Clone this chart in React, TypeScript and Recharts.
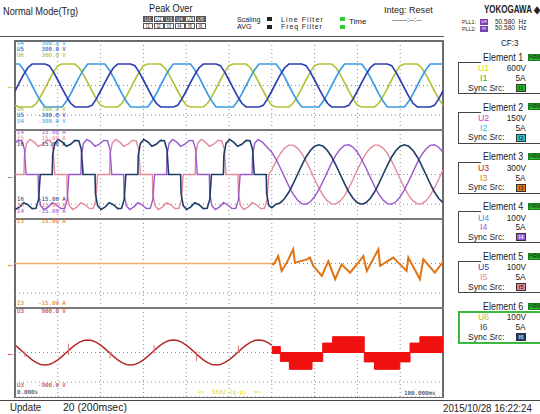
import React from "react";
import {Area, CartesianGrid, ComposedChart, Line, LineChart, XAxis, YAxis} from "recharts";

// shared 1 ms time base for the voltage traces
const TIME_MS = [
  0, 1, 2, 3, 4, 5, 6, 7, 8, 9, 10, 11, 12, 13, 14, 15, 16, 17, 18, 19,
  20, 21, 22, 23, 24, 25, 26, 27, 28, 29, 30, 31, 32, 33, 34, 35, 36, 37, 38, 39,
  40, 41, 42, 43, 44, 45, 46, 47, 48, 49, 50, 51, 52, 53, 54, 55, 56, 57, 58, 59,
  60, 61, 62, 63, 64, 65, 66, 67, 68, 69, 70, 71, 72, 73, 74, 75, 76, 77, 78, 79,
  80, 81, 82, 83, 84, 85, 86, 87, 88, 89, 90, 91, 92, 93, 94, 95, 96, 97, 98, 99,
  100,
];
const X_TICKS = [0, 10, 20, 30, 40, 50, 60, 70, 80, 90, 100];

// panel 1: U4 / U5 / U6 (V)
const U4_V = [
  145, 145, 106, 56, 0, -56, -106, -145, -145, -145, -145, -145, -106, -56, 0, 56, 106, 145, 145, 145,
  145, 145, 106, 56, 0, -56, -106, -145, -145, -145, -145, -145, -106, -56, 0, 56, 106, 145, 145, 145,
  145, 145, 106, 56, 0, -56, -106, -145, -145, -145, -145, -145, -106, -56, 0, 56, 106, 145, 145, 145,
  145, 145, 106, 56, 0, -56, -106, -145, -145, -145, -145, -145, -106, -56, 0, 56, 106, 145, 145, 145,
  145, 145, 106, 56, 0, -56, -106, -145, -145, -145, -145, -145, -106, -56, 0, 56, 106, 145, 145, 145,
  145,
];
const U5_V = [
  -37, 19, 73, 120, 145, 145, 145, 145, 134, 90, 37, -19, -73, -120, -145, -145, -145, -145, -134, -90,
  -37, 19, 73, 120, 145, 145, 145, 145, 134, 90, 37, -19, -73, -120, -145, -145, -145, -145, -134, -90,
  -37, 19, 73, 120, 145, 145, 145, 145, 134, 90, 37, -19, -73, -120, -145, -145, -145, -145, -134, -90,
  -37, 19, 73, 120, 145, 145, 145, 145, 134, 90, 37, -19, -73, -120, -145, -145, -145, -145, -134, -90,
  -37, 19, 73, 120, 145, 145, 145, 145, 134, 90, 37, -19, -73, -120, -145, -145, -145, -145, -134, -90,
  -37,
];
const U6_V = [
  -134, -145, -145, -145, -145, -120, -73, -19, 37, 90, 134, 145, 145, 145, 145, 120, 73, 19, -37, -90,
  -134, -145, -145, -145, -145, -120, -73, -19, 37, 90, 134, 145, 145, 145, 145, 120, 73, 19, -37, -90,
  -134, -145, -145, -145, -145, -120, -73, -19, 37, 90, 134, 145, 145, 145, 145, 120, 73, 19, -37, -90,
  -134, -145, -145, -145, -145, -120, -73, -19, 37, 90, 134, 145, 145, 145, 145, 120, 73, 19, -37, -90,
  -134, -145, -145, -145, -145, -120, -73, -19, 37, 90, 134, 145, 145, 145, 145, 120, 73, 19, -37, -90,
  -134,
];
const U_TICKS = [-300, -200, -100, 0, 100, 200, 300];

// panel 2: I4 / I5 / I6 as [ms, A]
const I4_A = [
  [0, 10.6], [0.7, 11.5], [1.6, 11.4], [2.2, 8.5], [2.6, 0],
  [5.4, 0], [5.5, -6.5], [6, -10.5], [6.8, -11.8], [7.8, -10.9], [8.7, -9.5], [9.7, -10.2], [10.7, -11.5], [11.6, -11.4], [12.2, -8.5], [12.6, 0],
  [15.4, 0], [15.5, 6.5], [16, 10.5], [16.8, 11.8], [17.8, 10.9], [18.7, 9.5], [19.7, 10.2], [20.7, 11.5], [21.6, 11.4], [22.2, 8.5], [22.6, 0],
  [25.4, 0], [25.5, -6.5], [26, -10.5], [26.8, -11.8], [27.8, -10.9], [28.7, -9.5], [29.7, -10.2], [30.7, -11.5], [31.6, -11.4], [32.2, -8.5], [32.6, 0],
  [35.4, 0], [35.5, 6.5], [36, 10.5], [36.8, 11.8], [37.8, 10.9], [38.7, 9.5], [39.7, 10.2], [40.7, 11.5], [41.6, 11.4], [42.2, 8.5], [42.6, 0],
  [45.4, 0], [45.5, -6.5], [46, -10.5], [46.8, -11.8], [47.8, -10.9], [48.7, -9.5], [49.7, -10.2], [50.7, -11.5], [51.6, -11.4], [52.2, -8.5], [52.6, 0],
  [55.4, 0], [55.5, 6.5], [56, 10.5], [56.8, 11.8], [57.8, 10.9], [58.7, 9.5],
  [60, 7.5], [61, 5.1], [62, 2.2], [63, -0.9], [64, -4], [65, -6.6], [66, -8.6], [67, -9.8], [68, -10], [69, -9.2],
  [70, -7.5], [71, -5.1], [72, -2.2], [73, 0.9], [74, 4], [75, 6.6], [76, 8.6], [77, 9.8], [78, 10], [79, 9.2],
  [80, 7.5], [81, 5.1], [82, 2.2], [83, -0.9], [84, -4], [85, -6.6], [86, -8.6], [87, -9.8], [88, -10], [89, -9.2],
  [90, -7.5], [91, -5.1], [92, -2.2], [93, 0.9], [94, 4], [95, 6.6], [96, 8.6], [97, 9.8], [98, 10], [99, 9.2],
  [100, 7.5],
];
const I5_A = [
  [0, 0], [2.1, 0], [2.2, 6.5], [2.7, 10.5], [3.5, 11.8], [4.5, 10.9], [5.4, 9.5], [6.4, 10.2], [7.4, 11.5], [8.3, 11.4], [8.9, 8.5], [9.3, 0],
  [12.1, 0], [12.2, -6.5], [12.7, -10.5], [13.5, -11.8], [14.5, -10.9], [15.4, -9.5], [16.4, -10.2], [17.4, -11.5], [18.3, -11.4], [18.9, -8.5], [19.3, 0],
  [22.1, 0], [22.2, 6.5], [22.7, 10.5], [23.5, 11.8], [24.5, 10.9], [25.4, 9.5], [26.4, 10.2], [27.4, 11.5], [28.3, 11.4], [28.9, 8.5], [29.3, 0],
  [32.1, 0], [32.2, -6.5], [32.7, -10.5], [33.5, -11.8], [34.5, -10.9], [35.4, -9.5], [36.4, -10.2], [37.4, -11.5], [38.3, -11.4], [38.9, -8.5], [39.3, 0],
  [42.1, 0], [42.2, 6.5], [42.7, 10.5], [43.5, 11.8], [44.5, 10.9], [45.4, 9.5], [46.4, 10.2], [47.4, 11.5], [48.3, 11.4], [48.9, 8.5], [49.3, 0],
  [52.1, 0], [52.2, -6.5], [52.7, -10.5], [53.5, -11.8], [54.5, -10.9], [55.4, -9.5], [56.4, -10.2], [57.4, -11.5], [58.3, -11.4], [58.9, -8.5], [59.3, 0],
  [60, 1.6], [61, 4.5], [62, 7.1], [63, 8.9], [64, 9.9], [65, 9.9], [66, 8.9], [67, 7.1], [68, 4.5], [69, 1.6],
  [70, -1.6], [71, -4.5], [72, -7.1], [73, -8.9], [74, -9.9], [75, -9.9], [76, -8.9], [77, -7.1], [78, -4.5], [79, -1.6],
  [80, 1.6], [81, 4.5], [82, 7.1], [83, 8.9], [84, 9.9], [85, 9.9], [86, 8.9], [87, 7.1], [88, 4.5], [89, 1.6],
  [90, -1.6], [91, -4.5], [92, -7.1], [93, -8.9], [94, -9.9], [95, -9.9], [96, -8.9], [97, -7.1], [98, -4.5], [99, -1.6],
  [100, 1.6],
];
const I6_A = [
  [0, -11.6], [0.1, -11.8], [1.1, -10.9], [2, -9.5], [3, -10.2], [4, -11.5], [4.9, -11.4], [5.5, -8.5], [5.9, 0],
  [8.7, 0], [8.8, 6.5], [9.3, 10.5], [10.1, 11.8], [11.1, 10.9], [12, 9.5], [13, 10.2], [14, 11.5], [14.9, 11.4], [15.5, 8.5], [15.9, 0],
  [18.7, 0], [18.8, -6.5], [19.3, -10.5], [20.1, -11.8], [21.1, -10.9], [22, -9.5], [23, -10.2], [24, -11.5], [24.9, -11.4], [25.5, -8.5], [25.9, 0],
  [28.7, 0], [28.8, 6.5], [29.3, 10.5], [30.1, 11.8], [31.1, 10.9], [32, 9.5], [33, 10.2], [34, 11.5], [34.9, 11.4], [35.5, 8.5], [35.9, 0],
  [38.7, 0], [38.8, -6.5], [39.3, -10.5], [40.1, -11.8], [41.1, -10.9], [42, -9.5], [43, -10.2], [44, -11.5], [44.9, -11.4], [45.5, -8.5], [45.9, 0],
  [48.7, 0], [48.8, 6.5], [49.3, 10.5], [50.1, 11.8], [51.1, 10.9], [52, 9.5], [53, 10.2], [54, 11.5], [54.9, 11.4], [55.5, 8.5], [55.9, 0],
  [58.7, 0], [58.8, -6.5], [59.3, -10.5], [60, -11.2],
  [61, -10], [62, -9.5], [63, -8.1], [64, -5.9], [65, -3.1], [66, 0], [67, 3.1], [68, 5.9], [69, 8.1], [70, 9.5],
  [71, 10], [72, 9.5], [73, 8.1], [74, 5.9], [75, 3.1], [76, 0], [77, -3.1], [78, -5.9], [79, -8.1], [80, -9.5],
  [81, -10], [82, -9.5], [83, -8.1], [84, -5.9], [85, -3.1], [86, 0], [87, 3.1], [88, 5.9], [89, 8.1], [90, 9.5],
  [91, 10], [92, 9.5], [93, 8.1], [94, 5.9], [95, 3.1], [96, 0], [97, -3.1], [98, -5.9], [99, -8.1], [100, -9.5],
];
const I_TICKS = [-15, -10, -5, 0, 5, 10, 15];

// panel 3: I3 (A)
const I3_IDLE = [[0, 0], [60, 0]];
const I3_A = [
  [60, 0], [60.4, -0.3], [61.5, 2.5], [62.3, -2.5], [63.5, 0.3], [65, 4.8], [65.4, 0.3], [68.2, 1.4],
  [68.9, 2], [69.7, -0.8], [71.7, -4.2], [73.2, 0.8], [74.8, -5.3], [76.3, -0.3], [78.3, -3.1], [80.2, 0.3],
  [81.4, 2.5], [82.2, -2.5], [84.9, 4.8], [85.3, -0.8], [88.4, 2], [89.2, 0.8], [91.5, -2.5], [91.9, 2],
  [94.6, -5.3], [95.4, 1.4], [98.1, -3.1], [99.3, -0.8], [100, 0.5],
];

// panel 4: U3 (V), sine up to 60 ms, then switching blocks
const U3_V = [
  150, 79, 0, -79, -150, -206, -242, -255, -242, -206, -150, -79, 0, 79, 150, 206, 242, 255, 242, 206,
  150, 79, 0, -79, -150, -206, -242, -255, -242, -206, -150, -79, 0, 79, 150, 206, 242, 255, 242, 206,
  150, 79, 0, -79, -150, -206, -242, -255, -242, -206, -150, -79, 0, 79, 150, 206, 242, 255, 242, 206,
  150,
];
// [ms, low V, high V]
const U3_SPIKES = [[2.3, -90, 20], [12.5, -50, 180], [22.2, -120, 20], [32.5, -20, 150], [42.4, -180, 20], [52.2, -10, 140]];
// [start ms, end ms, low V, high V]
const U3_BLOCKS = [
  [60, 62, -20, 120],
  [62, 64.1, -180, 0],
  [64.1, 69.4, -340, 0],
  [69.4, 71.9, -180, 0],
  [71.9, 74.2, 0, 190],
  [74.2, 81.6, 0, 320],
  [81.6, 84, -190, 0],
  [84, 89.9, -340, 0],
  [89.9, 92.3, -190, 0],
  [92.3, 94.6, 0, 190],
  [94.6, 100, 0, 320],
];
const U3_TICKS = [-900, -600, -300, 0, 300, 600, 900];

// right-hand element list
const ELEMENTS = ["Element 1", "Element 2", "Element 3", "Element 4", "Element 5", "Element 6"];
const U_NAMES = ["U1", "U2", "U3", "U4", "U5", "U6"];
const I_NAMES = ["I1", "I2", "I3", "I4", "I5", "I6"];
const U_RANGES = ["600V", "150V", "300V", "100V", "100V", "100V"];
const I_RANGES = ["5A", "5A", "5A", "5A", "5A", "5A"];
const U_COLORS = ["#e2dc00", "#c23ac2", "#b22a2a", "#3d9be0", "#2b3fb0", "#b4c23a"];
const I_COLORS = ["#24b824", "#2ec0d8", "#e07b20", "#9b59d0", "#e48a9c", "#1f3d66"];
const SYNC_TEXT = ["#111", "#111", "#111", "#fff", "#111", "#fff"];
const PEAK_U_ON = [true, false, true, true, false, true];

const SANS = '"Liberation Sans", Arial, sans-serif';
const MONO = '"DejaVu Sans Mono", "Liberation Mono", monospace';

const PLOT_X = 15;
const PLOT_W = 428;
const PANEL_H = 89;
const PANEL_TOPS = [41, 130, 219, 308];
const MARGIN = {top: 0, right: 0, bottom: 0, left: 0};

const toRows = (pts: number[][]) => pts.map(([t, v]) => ({t, v}));

// absolutely placed text, y is the vertical centre; sx squeezes it horizontally
const Txt = ({x, y, size = 10, color = "#222", font = SANS, weight = 400, right, sx = 1, ls = 0, children}: any) => (
  <div
    style={{
      position: "absolute",
      left: right === undefined ? x : undefined,
      right,
      top: y - size / 2,
      fontSize: size,
      lineHeight: `${size}px`,
      color,
      fontFamily: font,
      fontWeight: weight,
      letterSpacing: ls,
      whiteSpace: "pre",
      transform: sx === 1 ? undefined : `scaleX(${sx})`,
      transformOrigin: right === undefined ? "left center" : "right center",
    }}
  >
    {children}
  </div>
);

const Box = ({x, y, w, h, bg, border = "#555", color = "#111", size = 5, children}: any) => (
  <div
    style={{
      position: "absolute", left: x, top: y, width: w, height: h, background: bg,
      border: `1px solid ${border}`, boxSizing: "border-box", color, fontSize: size,
      lineHeight: `${h - 2}px`, textAlign: "center", fontFamily: SANS, overflow: "hidden",
    }}
  >
    {children}
  </div>
);

const HLine = ({x, y, w, c = "#555", t = 1}: any) => (
  <div style={{position: "absolute", left: x, top: y, width: w, height: t, background: c}}/>
);
const VLine = ({x, y, h, c = "#555", t = 1}: any) => (
  <div style={{position: "absolute", left: x, top: y, width: t, height: h, background: c}}/>
);

const grid = <CartesianGrid stroke="#8a8a8a" strokeDasharray="1 3"/>;
const xAxis = <XAxis dataKey="t" type="number" domain={[0, 100]} ticks={X_TICKS} hide/>;

const ChartBox = ({top, children}: any) => (
  <div style={{position: "absolute", left: PLOT_X, top, width: PLOT_W, height: PANEL_H}}>{children}</div>
);

const LBL = 5.8;

export default function App() {
  const voltRows = TIME_MS.map((t, i) => ({t, u4: U4_V[i], u5: U5_V[i], u6: U6_V[i]}));
  const u3Rows = U3_V.map((v, i) => ({t: TIME_MS[i], v}));
  const spikeRows = U3_SPIKES.flatMap(([t, lo, hi]) => [{t, v: lo}, {t, v: hi}, {t: t + 0.01, v: null}]);
  const blockRows = U3_BLOCKS.flatMap(([s, e, lo, hi]) => [{t: s, r: [lo, hi]}, {t: e, r: [lo, hi]}]);

  return (
    <div style={{position: "absolute", left: 0, top: 0, width: 540, height: 414, background: "#fff", overflow: "hidden"}}>
      {/* header */}
      <Txt x={3} y={11} size={11} sx={0.84}>Normal Mode(Trg)</Txt>
      <Txt x={149} y={9} size={10} sx={0.92}>Peak Over</Txt>
      {U_NAMES.map((n, i) => (
        <Box key={n} x={143 + i * 10.5} y={16} w={10} h={6} bg={PEAK_U_ON[i] ? "#555" : "#fff"} color={PEAK_U_ON[i] ? "#fff" : "#333"}>{n}</Box>
      ))}
      {I_NAMES.map((n, i) => (
        <Box key={n} x={143 + i * 10.5} y={23} w={10} h={6} bg="#fff" color="#333">{n}</Box>
      ))}
      <Txt x={237} y={19} size={7} sx={1.02}>Scaling</Txt>
      <Txt x={237} y={26.5} size={7} sx={1.02}>AVG</Txt>
      <div style={{position: "absolute", left: 267, top: 17, width: 5, height: 4, background: "#222"}}/>
      <div style={{position: "absolute", left: 267, top: 24.5, width: 5, height: 4, background: "#222"}}/>
      <Txt x={281} y={19} size={7} ls={1.1}>Line Filter</Txt>
      <Txt x={281} y={26.5} size={7} ls={0.9}>Freq Filter</Txt>
      <div style={{position: "absolute", left: 340, top: 17, width: 5, height: 4, background: "#2ed02e"}}/>
      <div style={{position: "absolute", left: 340, top: 24.5, width: 5, height: 4, background: "#2ed02e"}}/>
      <Txt x={349} y={21.5} size={8}>Time</Txt>
      <Txt x={384} y={10} size={9.5} sx={0.95}>Integ: Reset</Txt>
      <Txt x={392} y={19.5} size={7.5}>------:--:--</Txt>
      <Txt x={484} y={10} size={10} weight={700} sx={0.8}>YOKOGAWA ◆</Txt>
      <Txt x={462} y={22} size={6} sx={0.9}>PLL1:</Txt>
      <Txt x={462} y={28.5} size={6} sx={0.9}>PLL2:</Txt>
      <Box x={480} y={19} w={8} h={6} bg="#7d3fb0" border="#7d3fb0" color="#fff" size={4.5}>U4</Box>
      <Box x={480} y={25.5} w={8} h={6} bg="#7d3fb0" border="#7d3fb0" color="#fff" size={4.5}>I4</Box>
      <Txt x={495} y={22} size={6.5}>50.580  Hz</Txt>
      <Txt x={495} y={28.5} size={6.5}>50.580  Hz</Txt>
      <HLine x={0} y={36} w={444} c="#555"/>

      {/* plot frame */}
      <VLine x={14} y={40} h={358} c="#6a6a6a" t={2}/>
      <VLine x={442} y={40} h={358} c="#6a6a6a" t={2}/>
      <HLine x={14} y={40} w={430} c="#6a6a6a" t={1.5}/>
      <HLine x={14} y={396.5} w={430} c="#6a6a6a" t={1.5}/>

      <ChartBox top={PANEL_TOPS[0]}>
        <LineChart width={PLOT_W} height={PANEL_H} data={voltRows} margin={MARGIN}>
          {grid}
          {xAxis}
          <YAxis type="number" domain={[-300, 300]} ticks={U_TICKS} hide/>
          <Line dataKey="u6" stroke="#b4c23a" strokeWidth={1.7} dot={false} isAnimationActive={false}/>
          <Line dataKey="u4" stroke="#3d9be0" strokeWidth={1.7} dot={false} isAnimationActive={false}/>
          <Line dataKey="u5" stroke="#2b3fb0" strokeWidth={1.7} dot={false} isAnimationActive={false}/>
        </LineChart>
      </ChartBox>

      <ChartBox top={PANEL_TOPS[1]}>
        <LineChart width={PLOT_W} height={PANEL_H} margin={MARGIN}>
          {grid}
          {xAxis}
          <YAxis type="number" domain={[-15, 15]} ticks={I_TICKS} hide/>
          <Line data={toRows(I5_A)} dataKey="v" stroke="#e48a9c" strokeWidth={1.4} dot={false} isAnimationActive={false}/>
          <Line data={toRows(I4_A)} dataKey="v" stroke="#9b59d0" strokeWidth={1.4} dot={false} isAnimationActive={false}/>
          <Line data={toRows(I6_A)} dataKey="v" stroke="#1f3d66" strokeWidth={1.6} dot={false} isAnimationActive={false}/>
        </LineChart>
      </ChartBox>

      <ChartBox top={PANEL_TOPS[2]}>
        <LineChart width={PLOT_W} height={PANEL_H} margin={MARGIN}>
          {grid}
          {xAxis}
          <YAxis type="number" domain={[-15, 15]} ticks={I_TICKS} hide/>
          <Line data={toRows(I3_IDLE)} dataKey="v" stroke="#f0ad6a" strokeWidth={1.6} dot={false} isAnimationActive={false}/>
          <Line data={toRows(I3_A)} dataKey="v" stroke="#e07414" strokeWidth={2} dot={false} isAnimationActive={false}/>
        </LineChart>
      </ChartBox>

      <ChartBox top={PANEL_TOPS[3]}>
        <ComposedChart width={PLOT_W} height={PANEL_H} data={blockRows} margin={MARGIN}>
          {grid}
          {xAxis}
          <YAxis type="number" domain={[-900, 900]} ticks={U3_TICKS} hide/>
          <Area dataKey="r" type="linear" stroke="#f01010" strokeWidth={1} fill="#f01010" fillOpacity={1} isAnimationActive={false}/>
          <Line data={u3Rows} dataKey="v" stroke="#b22a2a" strokeWidth={1.5} dot={false} isAnimationActive={false}/>
          <Line data={spikeRows} dataKey="v" stroke="#e07a7a" strokeWidth={1} dot={false} connectNulls={false} isAnimationActive={false}/>
        </ComposedChart>
      </ChartBox>

      {/* panel separators */}
      <HLine x={14} y={129} w={430} c="#7a7a7a" t={2}/>
      <HLine x={14} y={218} w={430} c="#7a7a7a" t={2}/>
      <HLine x={14} y={307} w={430} c="#7a7a7a" t={2}/>

      {/* trace labels */}
      <Txt x={17} y={44} size={LBL} font={MONO} color="#3d9be0">{"U4     300.0 V"}</Txt>
      <Txt x={17} y={50} size={LBL} font={MONO} color="#2b3fb0">{"U5     300.0 V"}</Txt>
      <Txt x={17} y={56} size={LBL} font={MONO} color="#a9b52a">{"U6     300.0 V"}</Txt>
      <Txt x={17} y={110} size={LBL} font={MONO} color="#a9b52a">{"U6    -300.0 V"}</Txt>
      <Txt x={17} y={116} size={LBL} font={MONO} color="#2b3fb0">{"U5    -300.0 V"}</Txt>
      <Txt x={17} y={122} size={LBL} font={MONO} color="#3d9be0">{"U4    -300.0 V"}</Txt>
      <Txt x={17} y={133} size={LBL} font={MONO} color="#9b59d0">{"I4     15.00 A"}</Txt>
      <Txt x={17} y={139} size={LBL} font={MONO} color="#e48a9c">{"I5     15.00 A"}</Txt>
      <Txt x={17} y={145} size={LBL} font={MONO} color="#1f3d66">{"I6     15.00 A"}</Txt>
      <Txt x={17} y={200} size={LBL} font={MONO} color="#1f3d66">{"I6    -15.00 A"}</Txt>
      <Txt x={17} y={206} size={LBL} font={MONO} color="#e48a9c">{"I5    -15.00 A"}</Txt>
      <Txt x={17} y={212} size={LBL} font={MONO} color="#9b59d0">{"I4    -15.00 A"}</Txt>
      <Txt x={17} y={222} size={LBL} font={MONO} color="#e07414">{"I3     15.00 A"}</Txt>
      <Txt x={17} y={303.5} size={LBL} font={MONO} color="#e07414">{"I3    -15.00 A"}</Txt>
      <Txt x={17} y={312} size={LBL} font={MONO} color="#c02020">{"U3     900.0 V"}</Txt>
      <Txt x={17} y={386} size={LBL} font={MONO} color="#c02020">{"U3    -900.0 V"}</Txt>
      <Txt x={17} y={393} size={LBL} font={MONO} color="#222">0.000s</Txt>
      <Txt x={198} y={393} size={LBL} font={MONO} color="#e8d800">{"<<  5502 (p-p)  >>"}</Txt>
      <Txt x={404} y={393.5} size={LBL} font={MONO} color="#222">100.000ms</Txt>

      {/* zero markers on the left */}
      <Txt x={6} y={86} size={9} color="#b4c23a">←</Txt>
      <Txt x={6} y={176} size={9} color="#3d6fb0">←</Txt>
      <Txt x={6} y={264} size={9} color="#e07414">←</Txt>
      <Txt x={6} y={353} size={9} color="#c02020">←</Txt>

      {/* right column */}
      <Txt x={501} y={43} size={9} sx={0.9}>CF:3</Txt>
      {ELEMENTS.map((name, k) => {
        const hy = 57 + k * 49.8;
        const sel = k === 5;
        const bc = sel ? "#3cb83c" : "#444";
        return (
          <React.Fragment key={name}>
            <Txt x={483} y={hy} size={10.5} sx={0.85}>{name}</Txt>
            <Box x={528} y={hy - 3.5} w={14} h={7} bg="#2fb52f" border="#1d7a1d" size={5}>HRM</Box>
            <VLine x={458} y={hy + 5} h={31} c={bc} t={sel ? 1.5 : 1}/>
            <HLine x={458} y={hy + 5} w={sel ? 82 : 23} c={bc} t={sel ? 1.5 : 1}/>
            <HLine x={458} y={hy + 36} w={82} c={bc} t={sel ? 1.5 : 1}/>
            <Txt x={478} y={hy + 11} size={9.5} sx={0.92} color={U_COLORS[k]}>{U_NAMES[k]}</Txt>
            <Txt right={14} y={hy + 11} size={9.5} sx={0.88}>{U_RANGES[k]}</Txt>
            <Txt x={480} y={hy + 20.8} size={9.5} sx={0.92} color={I_COLORS[k]}>{I_NAMES[k]}</Txt>
            <Txt right={14} y={hy + 20.8} size={9.5} sx={0.88}>{I_RANGES[k]}</Txt>
            <Txt x={468} y={hy + 31} size={9} sx={0.95}>Sync Src:</Txt>
            <Box x={516} y={hy + 27} w={10} h={8} bg={I_COLORS[k]} border="#333" color={SYNC_TEXT[k]} size={6}>{I_NAMES[k]}</Box>
          </React.Fragment>
        );
      })}

      {/* footer */}
      <HLine x={0} y={400} w={540} c="#444"/>
      <Txt x={10} y={407} size={11} sx={0.88}>Update</Txt>
      <Txt x={63} y={407} size={11} sx={0.95}>20 (200msec)</Txt>
      <Txt x={443} y={408} size={11} sx={0.88}>2015/10/28 16:22:24</Txt>
    </div>
  );
}
